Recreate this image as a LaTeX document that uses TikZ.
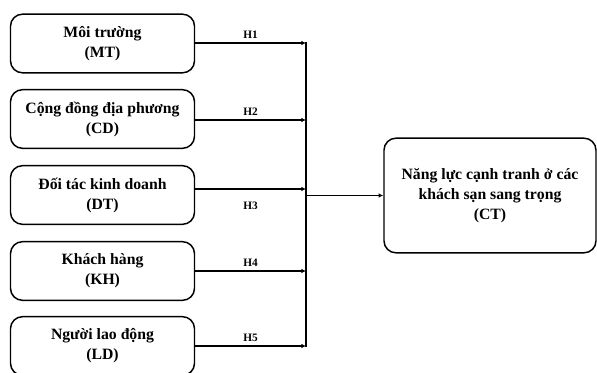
\documentclass[tikz,border=0pt]{standalone}
\usepackage{fontspec}
\setmainfont{Liberation Serif}
\usetikzlibrary{arrows.meta}
\begin{document}
\begin{tikzpicture}[x=0.75pt,y=-0.75pt,
  box/.style={draw,line width=1.1pt,rounded corners=9pt,align=center,
    font=\bfseries\fontsize{11.8}{15}\selectfont,inner sep=0pt},
  src/.style={box,minimum width=138pt,minimum height=44pt},
  link/.style={line width=1.1pt,-{Latex[length=3.5pt,width=3.5pt]}},
  hlab/.style={font=\bfseries\fontsize{8.5}{9}\selectfont,inner sep=1pt}]
\useasboundingbox (0,0) rectangle (597,372);
\clip (0,0) rectangle (597,372);
\node[src] (mt) at (102.5,43.5) {Môi trường\\(MT)};
\node[src] (cd) at (102.5,119) {Cộng đồng địa phương\\(CD)};
\node[src] (dt) at (102.5,195) {Đối tác kinh doanh\\(DT)};
\node[src] (kh) at (102.5,271) {Khách hàng\\(KH)};
\node[src] (ld) at (102.5,346) {Người lao động\\(LD)};
\node[box,minimum width=159pt,minimum height=86pt] (ct) at (490,195.5)
  {Năng lực cạnh tranh ở các\\khách sạn sang trọng\\(CT)};
\coordinate (b1) at (306,43);
\coordinate (b2) at (306,120);
\coordinate (b3) at (306,189);
\coordinate (b4) at (306,271);
\coordinate (b5) at (306,346);
\coordinate (bm) at (306,195.5);
\draw[link] (mt.east |- b1) -- (b1) node[hlab,pos=0.5,above=2pt] {H1};
\draw[link] (cd.east |- b2) -- (b2) node[hlab,pos=0.5,above=2pt] {H2};
\draw[link] (dt.east |- b3) -- (b3) node[hlab,pos=0.5,below=8pt] {H3};
\draw[link] (kh.east |- b4) -- (b4) node[hlab,pos=0.5,above=2pt] {H4};
\draw[link] (ld.east |- b5) -- (b5) node[hlab,pos=0.5,above=2pt] {H5};
\draw[line width=1.1pt] (306,42) -- (306,347);
\draw[link] (bm) -- (ct.west);
\end{tikzpicture}
\end{document}
